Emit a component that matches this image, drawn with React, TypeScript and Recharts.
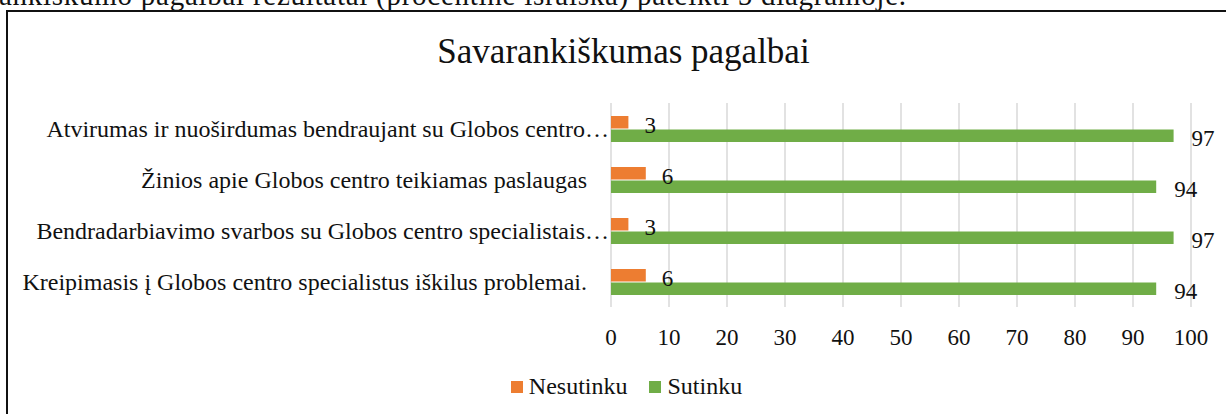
import React from "react";
import { BarChart, Bar, XAxis, YAxis, CartesianGrid, Legend, LabelList } from "recharts";

const categories = [
  "Atvirumas ir nuoširdumas bendraujant su Globos centro…",
  "Žinios apie Globos centro teikiamas paslaugas",
  "Bendradarbiavimo svarbos su Globos centro specialistais…",
  "Kreipimasis į Globos centro specialistus iškilus problemai.",
];
const nesutinku = [3, 6, 3, 6];
const sutinku = [97, 94, 97, 94];
const xTicks = [0, 10, 20, 30, 40, 50, 60, 70, 80, 90, 100];
const seriesNames = ["Nesutinku", "Sutinku"];
const title = "Savarankiškumas pagalbai";
const headerText = "ankiškumo pagalbai rezultatai (procentinė išraiška) pateikti 5 diagramoje.";

const data = categories.map((name, i) => ({
  name,
  nesutinku: nesutinku[i],
  sutinku: sutinku[i],
}));

const FONT = '"Liberation Serif", "Times New Roman", serif';
const ORANGE = "#ED7D31";
const GREEN = "#70AD47";

const CatTick = (props: any) => {
  const { x, y, payload } = props;
  const s = String(payload.value);
  const trunc = s.endsWith("…");
  return (
    <text x={trunc ? x - 2 : x - 24} y={y} dy={8} textAnchor="end" fontSize={24} fontFamily={FONT} fill="#111">
      {s}
    </text>
  );
};

const NumTick = (props: any) => {
  const { x, y, payload } = props;
  return (
    <text x={x} y={y} dy={38} textAnchor="middle" fontSize={23} fontFamily={FONT} fill="#111">
      {payload.value}
    </text>
  );
};

const makeValueLabel = (offset: number) => (props: any) => {
  const { x, y, width, height, value } = props;
  return (
    <text x={x + width + offset} y={y + height / 2 + 10.5} textAnchor="start" fontSize={23} fontFamily={FONT} fill="#111">
      {value}
    </text>
  );
};

const LegendContent = (props: any) => {
  const { payload } = props;
  return (
    <div
      style={{
        height: 52,
        display: "flex",
        justifyContent: "center",
        alignItems: "center",
        paddingBottom: 3,
        boxSizing: "border-box",
        fontFamily: FONT,
        fontSize: 24,
        color: "#111",
      }}
    >
      {(payload || []).map((p: any, i: number) => (
        <div key={i} style={{ display: "flex", alignItems: "center", marginLeft: i === 0 ? 0 : 22 }}>
          <span style={{ display: "inline-block", width: 12, height: 12, background: p.color, marginRight: 6 }} />
          <span>{p.value}</span>
        </div>
      ))}
    </div>
  );
};

export default function App() {
  return (
    <div
      style={{
        position: "absolute",
        left: 0,
        top: 0,
        width: 1226,
        height: 414,
        overflow: "hidden",
        background: "#fff",
        fontFamily: FONT,
      }}
    >
      <svg width={1226} height={12} style={{ position: "absolute", left: 0, top: 0 }}>
        <text x={-1} y={5} fontSize={29} fontFamily={FONT} fill="#111" textLength={907} lengthAdjust="spacing">
          {headerText}
        </text>
      </svg>
      <div
        style={{
          position: "absolute",
          left: 6,
          top: 10,
          width: 1300,
          height: 450,
          borderLeft: "2px solid #111",
          borderTop: "2px solid #111",
          boxSizing: "border-box",
        }}
      />
      <div
        style={{
          position: "absolute",
          left: 0,
          top: 34,
          width: 1247,
          textAlign: "center",
          fontSize: 35,
          lineHeight: 1,
          color: "#111",
          whiteSpace: "nowrap",
        }}
      >
        {title}
      </div>
      <div style={{ position: "absolute", left: 0, top: 0 }}>
        <BarChart
          width={1226}
          height={414}
          data={data}
          layout="vertical"
          margin={{ top: 103, right: 35, bottom: 0, left: 0 }}
          barSize={12.5}
          barGap={1}
        >
          <CartesianGrid horizontal={false} vertical={true} stroke="#D9D9D9" strokeWidth={1.5} />
          <XAxis
            type="number"
            domain={[0, 100]}
            ticks={xTicks}
            interval={0}
            axisLine={false}
            tickLine={false}
            tickSize={0}
            tickMargin={0}
            height={55}
            tick={<NumTick />}
          />
          <YAxis
            type="category"
            dataKey="name"
            width={611}
            interval={0}
            axisLine={false}
            tickLine={false}
            tickSize={0}
            tickMargin={0}
            tick={<CatTick />}
          />
          <Legend
            verticalAlign="bottom"
            height={52}
            wrapperStyle={{ left: 0, width: 1253, height: 52 }}
            content={<LegendContent />}
          />
          <Bar dataKey="nesutinku" name={seriesNames[0]} fill={ORANGE} isAnimationActive={false}>
            <LabelList dataKey="nesutinku" content={makeValueLabel(16)} />
          </Bar>
          <Bar dataKey="sutinku" name={seriesNames[1]} fill={GREEN} isAnimationActive={false}>
            <LabelList dataKey="sutinku" content={makeValueLabel(18)} />
          </Bar>
        </BarChart>
      </div>
    </div>
  );
}
